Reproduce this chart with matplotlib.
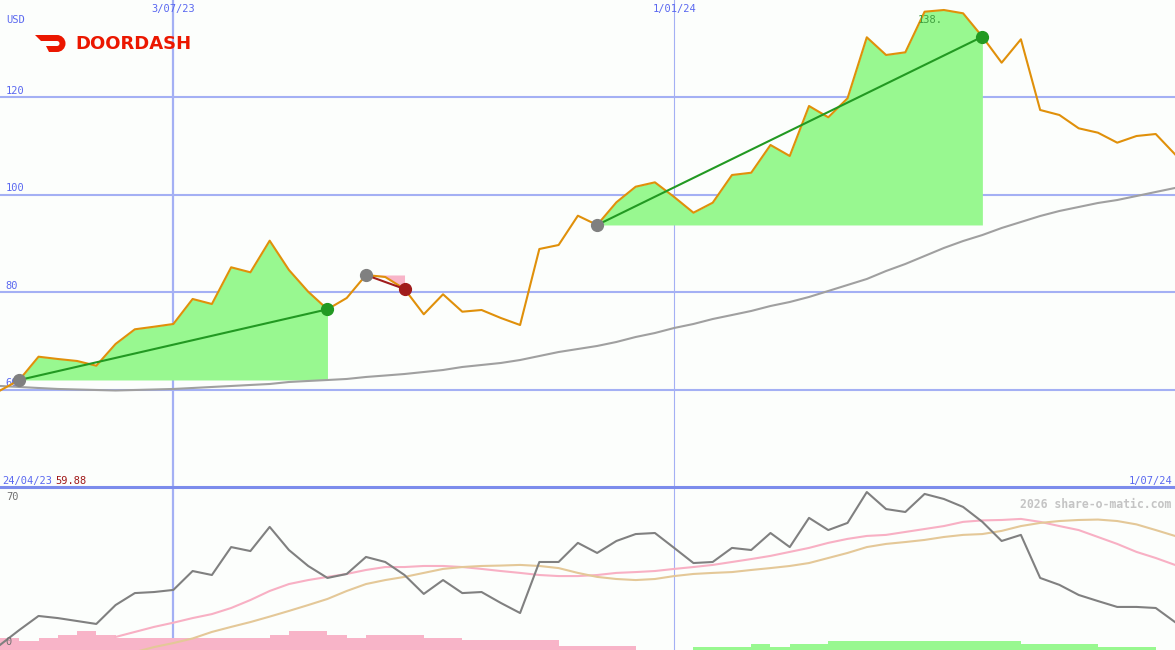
import matplotlib
matplotlib.use("Agg")
import matplotlib.pyplot as plt
from matplotlib.path import Path
from matplotlib.patches import PathPatch
from matplotlib.transforms import IdentityTransform, blended_transform_factory
import pandas as pd

# weekly closes, DoorDash (USD)
dates = pd.date_range("2023-05-01", periods=62, freq="7D")
price = [59.88, 62.05, 66.83, 66.36, 65.95, 64.98, 69.44, 72.45, 72.98, 73.54,
         78.67, 77.64, 85.17, 84.14, 90.63, 84.62, 80.16, 76.55, 78.87, 83.59,
         83.18, 80.72, 75.53, 79.63, 76.06, 76.41, 74.77, 73.33, 88.92, 89.74,
         95.75, 93.85, 98.50, 101.70, 102.60, 99.59, 96.37, 98.42, 104.10, 104.57,
         110.26, 108.00, 118.26, 115.94, 119.84, 132.35, 128.72, 129.27, 137.60, 137.95,
         137.27, 132.47, 127.14, 131.94, 117.44, 116.41, 113.68, 112.78, 110.73, 112.10,
         112.51, 108.35]
ma200 = [60.82, 60.62, 60.41, 60.21, 60.10, 60.00, 59.90, 60.00, 60.10, 60.21,
         60.41, 60.62, 60.82, 61.03, 61.23, 61.64, 61.85, 62.05, 62.26, 62.67,
         62.97, 63.28, 63.69, 64.10, 64.72, 65.13, 65.54, 66.15, 66.97, 67.79,
         68.41, 69.03, 69.85, 70.87, 71.69, 72.72, 73.54, 74.56, 75.38, 76.21,
         77.23, 78.05, 79.08, 80.31, 81.54, 82.77, 84.41, 85.85, 87.49, 89.13,
         90.56, 91.79, 93.23, 94.46, 95.69, 96.72, 97.54, 98.36, 98.97, 99.79,
         100.62, 101.44]

# trend segments: (start index, end index, up?)
trends = [(1, 17, True), (19, 21, False), (31, 51, True)]

# lower panel
osc = [2.4, 9.5, 16.2, 15.2, 13.8, 12.4, 21.4, 27.1, 27.6, 28.6,
       37.6, 35.7, 49.0, 47.1, 58.6, 47.6, 40.0, 34.3, 36.2, 44.3,
       41.9, 35.7, 26.7, 33.3, 27.1, 27.6, 22.4, 17.6, 41.9, 41.9,
       51.0, 46.2, 51.9, 55.2, 55.7, 48.6, 41.4, 41.9, 48.6, 47.6,
       55.7, 49.0, 62.9, 57.1, 60.5, 75.2, 67.1, 65.7, 74.3, 71.9,
       68.1, 61.0, 51.9, 54.8, 34.3, 31.0, 26.2, 23.3, 20.5, 20.5,
       20.0, 13.3]
osc_fast = [6.2, 8.6, 11.0, 13.0, 15.2, 17.1, 20.0, 23.8, 28.1, 31.4,
            33.3, 34.8, 36.2, 38.1, 39.5, 39.5, 40.0, 40.0, 39.5, 38.6,
            37.6, 36.7, 35.7, 35.2, 35.2, 35.7, 36.7, 37.1, 37.6, 38.6,
            39.5, 40.5, 41.9, 43.3, 44.8, 46.7, 48.6, 51.0, 52.9, 54.3,
            54.8, 56.2, 57.6, 59.0, 61.0, 61.7, 61.9, 62.4, 61.0, 59.0,
            57.1, 53.8, 50.5, 46.7, 43.8, 40.5]   # from week 6
osc_slow = [-1.0, 1.4, 3.3, 5.5, 8.6, 11.0, 13.3, 15.9, 18.6, 21.4,
            24.3, 28.1, 31.4, 33.3, 34.8, 36.7, 38.6, 39.5, 40.0, 40.2,
            40.5, 40.0, 39.0, 36.7, 34.8, 33.8, 33.3, 33.8, 35.2, 36.2,
            36.7, 37.1, 38.1, 39.0, 40.0, 41.4, 43.8, 46.2, 49.0, 50.5,
            51.4, 52.4, 53.8, 54.8, 55.2, 56.7, 59.0, 60.5, 61.4, 61.9,
            62.1, 61.4, 59.8, 57.1, 54.3]         # from week 7
neg_bars = [5.7, 4.3, 5.7, 7.1, 9.0, 7.1, 5.7, 5.7, 5.7, 5.7,
            5.7, 5.7, 5.7, 5.7, 7.1, 9.0, 9.0, 7.1, 5.7, 7.1,
            7.1, 7.1, 5.7, 5.7, 4.8, 4.8, 4.8, 4.8, 4.8, 1.9,
            1.9, 1.9, 1.9]                        # weeks 0-32
pos_bars = [1.4, 1.4, 1.4, 2.9, 1.4, 2.9, 2.9, 4.3, 4.3, 4.3,
            4.3, 4.3, 4.3, 4.3, 4.3, 4.3, 4.3, 2.9, 2.9, 2.9,
            2.9, 1.4, 1.4, 1.4]                   # weeks 36-59

grid_c = "#a4b0f4"
lab_c = "#5a68f0"
bg = "#fcfefc"
mono = "DejaVu Sans Mono"

fig = plt.figure(figsize=(11.75, 6.5), dpi=100, facecolor=bg)
ax = fig.add_axes([0, 163 / 650, 1, 487 / 650], facecolor=bg)
ax2 = fig.add_axes([0, 0, 1, 163 / 650], facecolor=bg)

for a in (ax, ax2):
    a.set_xlim(dates[0], dates[-1])
    for s in a.spines.values():
        s.set_visible(False)
    a.set_xticks([])
    a.set_yticks([])
    a.axvline(pd.Timestamp("2023-07-03"), color=grid_c, lw=1.6, zorder=0)
    a.axvline(pd.Timestamp("2024-01-01"), color=grid_c, lw=0.8, zorder=0)

ax.set_ylim(40.1, 140)
for lvl in (60, 80, 100, 120):
    ax.axhline(lvl, color=grid_c, lw=1.5, zorder=0)

# shaded moves and trend lines
for i0, i1, up in trends:
    base = price[i0]
    d = dates[i0:i1 + 1]
    p = price[i0:i1 + 1]
    fc = "#98f890" if up else "#f8b4c8"
    ax.fill_between(d, base, p, color=fc, lw=0, zorder=1)
    lc = "#229922" if up else "#a01c1c"
    ax.plot([dates[i0], dates[i1]], [price[i0], price[i1]], color=lc, lw=1.5, zorder=4)
    ax.plot(dates[i0], price[i0], "o", color="#808080", ms=8.5, zorder=5)
    ax.plot(dates[i1], price[i1], "o", color=lc, ms=8.5, zorder=5)

ax.plot(dates, ma200, color="#a0a0a0", lw=1.5, zorder=2)
ax.plot(dates, price, color="#e0900a", lw=1.5, zorder=3)

tr = blended_transform_factory(ax.transAxes, ax.transData)
trx = blended_transform_factory(ax.transData, ax.transAxes)
for lvl in (60, 80, 100, 120):
    ax.text(0.005, lvl + 0.4, str(lvl), transform=tr, color=lab_c, fontsize=7.5,
            family=mono, va="bottom", zorder=0.5)
ax.text(0.005, 1 - 20 / 487, "USD", transform=ax.transAxes, color=lab_c, fontsize=7.5,
        family=mono, va="center")
ax.text(pd.Timestamp("2023-07-03"), 1 - 9 / 487, "3/07/23", transform=trx,
        color=lab_c, fontsize=7.5, family=mono, ha="center", va="center")
ax.text(pd.Timestamp("2024-01-01"), 1 - 9 / 487, "1/01/24", transform=trx,
        color=lab_c, fontsize=7.5, family=mono, ha="center", va="center")
ax.text(dates[47] + pd.Timedelta(days=4.5), 135.9, "138.", color="#40a040", fontsize=7.5,
        family=mono, ha="left", va="center", zorder=6)
ax.text(0.002, 0.003, "24/04/23", transform=ax.transAxes, color=lab_c, fontsize=7.5,
        family=mono, va="bottom")
ax.text(0.047, 0.003, "59.88", transform=ax.transAxes, color="#a01818", fontsize=7.5,
        family=mono, va="bottom")
ax.text(0.998, 0.003, "1/07/24", transform=ax.transAxes, color=lab_c, fontsize=7.5,
        family=mono, va="bottom", ha="right")

# DoorDash logo
ax.text(0.064, 0.91, "DOORDASH", transform=ax.transAxes, color="#eb1700", fontsize=13,
        weight="bold", va="center", ha="left", family="DejaVu Sans")
H = 650
pts = [(35, 35), (57, 35), (61.7, 35), (65.5, 38.8), (65.5, 43.5), (65.5, 48.2), (61.7, 52), (57, 52),
       (49, 52), (46, 46), (57, 46), (58.4, 46), (59.5, 44.9), (59.5, 43.5), (59.5, 42.1), (58.4, 41),
       (57, 41), (41, 41), (35, 35)]
codes = [Path.MOVETO, Path.LINETO, Path.CURVE4, Path.CURVE4, Path.CURVE4, Path.CURVE4, Path.CURVE4, Path.CURVE4,
         Path.LINETO, Path.LINETO, Path.LINETO, Path.CURVE4, Path.CURVE4, Path.CURVE4, Path.CURVE4, Path.CURVE4,
         Path.CURVE4, Path.LINETO, Path.CLOSEPOLY]
logo = Path([(x, H - y) for x, y in pts], codes)
fig.patches.append(PathPatch(logo, facecolor="#eb1700", edgecolor="none", transform=IdentityTransform()))

# lower panel
ax2.set_ylim(0, 77.6)
ax2.axhline(77.6, color="#7c8cec", lw=2.2, zorder=6, clip_on=False)
ax2.bar(dates[0:33], neg_bars, width=7, align="edge", color="#f8b4c8", lw=0, zorder=1)
ax2.bar(dates[36:60], pos_bars, width=7, align="edge", color="#98f890", lw=0, zorder=1)
ax2.plot(dates[6:], osc_fast, color="#f8b0c4", lw=1.5, zorder=2)
ax2.plot(dates[7:], osc_slow, color="#e4c898", lw=1.5, zorder=2)
ax2.plot(dates, osc, color="#808080", lw=1.5, zorder=3)
tr2 = blended_transform_factory(ax2.transAxes, ax2.transData)
ax2.text(0.005, 70.5, "70", transform=tr2, color="#707070", fontsize=7.5, family=mono, va="bottom")
ax2.text(0.005, 1.5, "0", transform=tr2, color="#707070", fontsize=7.5, family=mono, va="bottom")
ax2.text(0.997, 0.93, "2026 share-o-matic.com", transform=ax2.transAxes, color="#c4c4c4",
         fontsize=8.3, family=mono, weight="bold", ha="right", va="top")

fig.savefig("out.png", dpi=100, facecolor=bg)
